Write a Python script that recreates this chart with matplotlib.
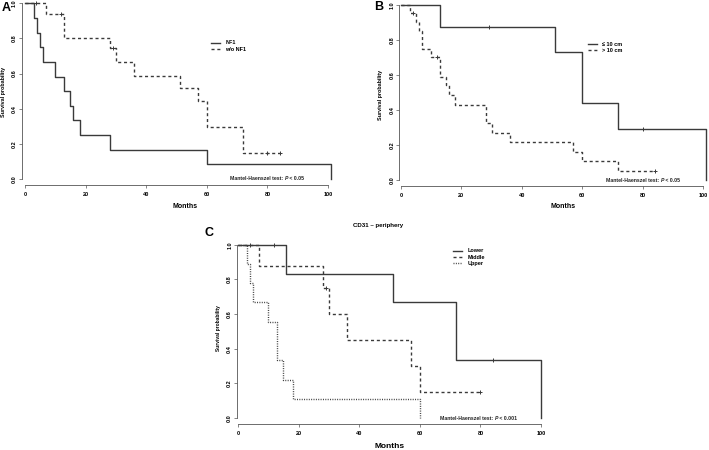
import numpy as np
import matplotlib
matplotlib.use('Agg')
import matplotlib.pyplot as plt
from matplotlib.offsetbox import TextArea, HPacker, AnnotationBbox

plt.rcParams['font.family'] = ['Liberation Sans', 'DejaVu Sans']
plt.rcParams['font.weight'] = 'bold'

W, H = 709, 450

# panel A: NF1
a_nf1_t = [3, 4, 5, 6, 10, 13, 15, 16, 18, 28, 60, 101]
a_nf1_s = [0.917, 0.833, 0.75, 0.667, 0.583, 0.5, 0.417, 0.333, 0.25, 0.167, 0.083, 0.0]
a_nf1_c = []
a_wo_t = [7, 13, 28, 30, 36, 51, 57, 60, 72]
a_wo_s = [0.937, 0.805, 0.744, 0.664, 0.588, 0.516, 0.444, 0.298, 0.148]
a_wo_c = [3.5, 12, 29, 80, 84]

# panel B: tumour size
b_small_t = [13, 51, 60, 72, 101]
b_small_s = [0.875, 0.73, 0.437, 0.292, 0.0]
b_small_c = [29, 80]
b_large_t = [3, 5, 6, 7, 10, 13, 15, 16, 18, 28, 30, 36, 57, 60, 72]
b_large_s = [0.95, 0.90, 0.85, 0.75, 0.70, 0.59, 0.54, 0.485, 0.43, 0.325, 0.27, 0.215, 0.16, 0.108, 0.054]
b_large_c = [4, 12, 84]

# panel C: CD31 periphery
c_low_t = [16, 51, 72, 100]
c_low_s = [0.833, 0.667, 0.333, 0.0]
c_low_c = [4, 12, 84]
c_mid_t = [7, 28, 30, 36, 57, 60]
c_mid_s = [0.875, 0.75, 0.6, 0.45, 0.3, 0.15]
c_mid_c = [29, 80]
c_up_t = [3, 4, 5, 10, 13, 15, 18, 60]
c_up_s = [0.889, 0.778, 0.667, 0.556, 0.333, 0.222, 0.111, 0.0]
c_up_c = []

xticks = [0, 20, 40, 60, 80, 100]
yticks = [0.0, 0.2, 0.4, 0.6, 0.8, 1.0]

col = '#3a3a3a'
styles = {'solid': dict(ls='-'),
          'dashed': dict(ls=(0, (2.2, 2.0))),
          'dotted': dict(ls=(0, (0.7, 1.0)))}

fig = plt.figure(figsize=(W/100, H/100), dpi=100)


def make_ax(x0, x100, y0, y1, xmin, ymin, xmax=104, ymax=1.02):
    # pixel positions of data x=0/100 and y=0/1
    sx = (x100 - x0)/100.
    sy = (y0 - y1)
    left = x0 + xmin*sx
    right = x0 + xmax*sx
    bot = y0 - ymin*sy
    top = y0 - ymax*sy
    ax = fig.add_axes([left/W, 1 - bot/H, (right - left)/W, (bot - top)/H])
    ax.set_xlim(xmin, xmax)
    ax.set_ylim(ymin, ymax)
    for s in ['top', 'right']:
        ax.spines[s].set_visible(False)
    ax.spines['left'].set_bounds(0, 1)
    ax.spines['bottom'].set_bounds(0, 100)
    for s in ['left', 'bottom']:
        ax.spines[s].set_color('#555555')
        ax.spines[s].set_linewidth(0.6)
    ax.set_xticks(xticks)
    ax.set_yticks(yticks)
    ax.set_yticklabels(['%.1f' % v for v in yticks], rotation=90, va='center')
    ax.tick_params(direction='out', length=2, width=0.5, color='#555555', labelsize=4)
    ax.tick_params(axis='x', pad=3)
    ax.tick_params(axis='y', pad=1.5)
    ax.patch.set_alpha(0)
    return ax


def km(ax, t, s, end, cens, style, label):
    x = [0] + list(t)
    y = [1.0] + list(s)
    if end > t[-1]:
        x.append(end)
        y.append(s[-1])
    ax.step(x, y, where='post', color=col, lw=1.0, label=label, **styles[style])
    if cens:
        idx = np.searchsorted(t, cens, side='right')
        cy = [1.0 if i == 0 else s[i-1] for i in idx]
        ax.plot(cens, cy, ls='none', marker='+', ms=3, mew=0.7, color=col)


def ftext(px, py, s, **kw):
    fig.text(px/W, 1 - py/H, s, **kw)


def mh_text(px, py, pval, size=3.7):
    parts = [TextArea('Mantel-Haenszel test: ', textprops=dict(size=size, weight='bold', color='#222222')),
             TextArea('P', textprops=dict(size=size, weight='bold', style='italic', color='#222222')),
             TextArea(' < ' + pval, textprops=dict(size=size, weight='bold', color='#222222'))]
    box = HPacker(children=parts, pad=0, sep=0, align='baseline')
    ab = AnnotationBbox(box, (px/W, 1 - py/H), xycoords='figure fraction',
                        box_alignment=(0, 0.5), frameon=False, pad=0)
    fig.add_artist(ab)


def legend(ax, px, py, size=4):
    ax.legend(loc='upper left', bbox_to_anchor=(px/W, 1 - py/H),
              bbox_transform=fig.transFigure, frameon=False, fontsize=size,
              borderpad=0, borderaxespad=0, handlelength=1.6, handletextpad=1.0,
              labelspacing=0.2)


# A
ax = make_ax(25, 328, 179, 3.3, -1, -0.035)
km(ax, a_nf1_t, a_nf1_s, 101, a_nf1_c, 'solid', 'NF1')
km(ax, a_wo_t, a_wo_s, 84, a_wo_c, 'dashed', 'w/o NF1')
legend(ax, 211, 40.5)
mh_text(230, 179, '0.05')
ftext(6, 8, 'A', size=9, weight='bold', ha='center', va='center')
ftext(4, 92, 'Survival probability', size=3.9, rotation=90, ha='center', va='center')
ftext(185, 207, 'Months', size=5, ha='center', va='center')

# B
ax = make_ax(401, 703, 180, 4.7, -0.6, -0.035)
km(ax, b_small_t, b_small_s, 101, b_small_c, 'solid', u'\u2264 10 cm')
km(ax, b_large_t, b_large_s, 84, b_large_c, 'dashed', '> 10 cm')
legend(ax, 588, 42.3)
mh_text(606, 180, '0.05')
ftext(379, 7, 'B', size=9, weight='bold', ha='center', va='center')
ftext(380, 95, 'Survival probability', size=3.9, rotation=90, ha='center', va='center')
ftext(563, 207, 'Months', size=5, ha='center', va='center')

# C
ax = make_ax(238, 541, 418, 244.7, -0.3, -0.036)
km(ax, c_low_t, c_low_s, 100, c_low_c, 'solid', 'Lower')
km(ax, c_mid_t, c_mid_s, 80, c_mid_c, 'dashed', 'Middle')
km(ax, c_up_t, c_up_s, 60, c_up_c, 'dotted', 'Upper')
legend(ax, 453, 248.5)
mh_text(440, 418, '0.001')
ftext(209, 233, 'C', size=9, weight='bold', ha='center', va='center')
ftext(218, 328, 'Survival probability', size=3.5, rotation=90, ha='center', va='center')
ftext(390, 447, 'Months', size=6, ha='center', va='center')
ftext(378, 225, u'CD31 \u2013 periphery', size=4.4, ha='center', va='center')

fig.savefig('out.png', dpi=100)
